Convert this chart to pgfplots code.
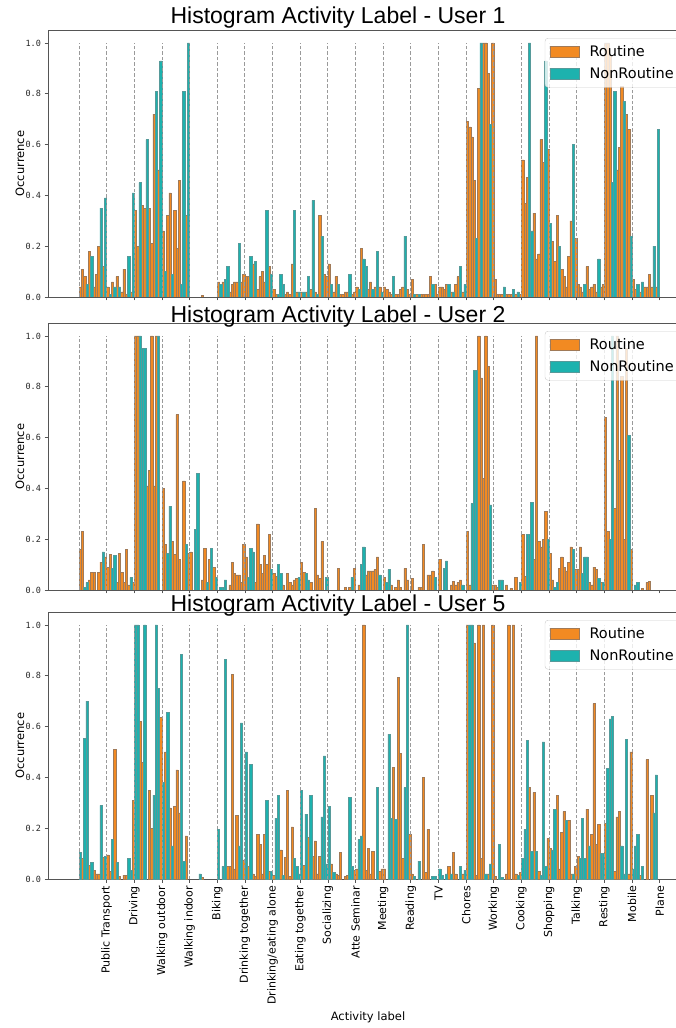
\documentclass[border=0pt]{standalone}
\usepackage{fontspec}
\setmainfont{DejaVu Sans}
\newfontfamily\titlefont{Liberation Sans}
\newfontfamily\tickfont{DejaVu Sans Mono}
\usepackage{pgfplots}
\pgfplotsset{compat=1.18}

\definecolor{routine}{HTML}{F28A22}
\definecolor{routineedge}{HTML}{A07A58}
\definecolor{nonroutine}{HTML}{1DB2AE}
\definecolor{nonroutineedge}{HTML}{569A9A}
\definecolor{spine}{HTML}{555555}
\definecolor{sepline}{HTML}{9A9A9A}

% one histogram slot = one x unit; a category spans 12 slots
\pgfplotsset{
  histpanel/.style={
    scale only axis, width=640pt, height=266.7pt,
    xmin=-13.98, xmax=263.78, ymin=0, ymax=1.05,
    axis x line*=box, axis y line*=left,
    axis line style={spine, line width=0.8pt},
    tick style={spine, line width=0.8pt},
    tick align=outside, major tick length=3.5pt,
    xtick={11.5,23.5,...,251.5}, xtick pos=left,
    ytick={0,0.2,0.4,0.6,0.8,1},
    /pgf/number format/assume math mode=true,
    yticklabel style={/pgf/number format/fixed, /pgf/number format/fixed zerofill,
      /pgf/number format/precision=1, font=\tickfont\fontsize{8.5}{10}\selectfont, text=black!85},
    ylabel={Occurrence},
    every axis y label/.style={at={(rel axis cs:-0.04375,0.5)}, rotate=90, anchor=center,
      font=\fontsize{11.5}{14}\selectfont},
    every axis title/.style={at={(rel axis cs:0.4531,1.027)}, anchor=base,
      font=\titlefont\fontsize{23}{27}\selectfont},
    legend style={at={(rel axis cs:0.989,0.971)}, anchor=north east,
      font=\fontsize{14.5}{17}\selectfont, fill=white, fill opacity=0.8, text opacity=1,
      draw=black!20, rounded corners=3pt, inner xsep=5pt, inner ysep=5pt, row sep=6pt,
      /tikz/every odd column/.append style={column sep=8pt}},
    legend cell align=left,
    legend image code/.code={\draw[#1, sharp corners, fill opacity=1] (0pt,-5.5pt) rectangle (29pt,5.5pt);},
  },
  lowtitle/.style={every axis title/.append style={at={(rel axis cs:0.4531,1.003)}}},
  routinebars/.style={ybar, bar width=1, bar shift=0pt, fill=routine, draw=routineedge, line width=0.5pt},
  nonroutinebars/.style={ybar, bar width=1, bar shift=0pt, fill=nonroutine, draw=nonroutineedge, line width=0.5pt},
}

\newcommand{\separators}{%
  \pgfplotsinvokeforeach{-0.5,11.5,23.5,35.5,47.5,59.5,71.5,83.5,95.5,107.5,119.5,131.5,143.5,155.5,167.5,179.5,191.5,203.5,215.5,227.5,239.5}{%
    \draw[sepline, line width=1pt, dash pattern=on 3.5pt off 2pt] (axis cs:##1,0) -- (axis cs:##1,1);}%
}

\begin{document}
\begin{tikzpicture}

% ---------------- User 1 ----------------
\begin{axis}[histpanel, at={(48pt,731pt)}, anchor=south west,
  title={Histogram Activity Label - User 1}, xticklabels={}]
\addplot[routinebars] table[row sep=\\]{x y\\
0 .04\\1 .11\\2 .08\\4 .18\\6 .04\\7 .09\\8 .20\\10 .12\\
12 .04\\14 .06\\16 .08\\18 .02\\19 .11\\20 .01\\22 .02\\
24 .34\\25 .20\\27 .36\\28 .35\\30 .35\\31 .21\\32 .72\\34 .50\\
36 .26\\38 .32\\39 .41\\41 .34\\42 .19\\43 .46\\46 .32\\
53 .006\\
60 .06\\62 .06\\65 .02\\66 .05\\67 .06\\68 .06\\70 .06\\71 .09\\
72 .08\\73 .08\\75 .13\\77 .03\\78 .08\\79 .10\\80 .06\\82 .12\\
84 .03\\85 .01\\89 .01\\90 .02\\91 .01\\92 .13\\94 .02\\
96 .02\\98 .02\\100 .03\\102 .02\\104 .32\\106 .09\\107 .08\\
108 .13\\110 .02\\111 .08\\113 .01\\114 .01\\115 .02\\116 .02\\118 .01\\119 .02\\
120 .04\\122 .19\\125 .03\\126 .06\\128 .04\\130 .04\\
132 .04\\133 .03\\134 .02\\135 .01\\137 .01\\138 .01\\139 .03\\140 .04\\142 .03\\143 .01\\
144 .07\\146 .01\\148 .01\\149 .01\\150 .01\\151 .01\\152 .08\\154 .05\\155 .01\\
156 .04\\157 .04\\158 .03\\159 .05\\161 .02\\163 .05\\164 .08\\166 .02\\
168 .69\\169 .67\\170 .63\\171 .46\\173 .82\\175 1.0\\176 1.0\\177 .88\\179 1.0\\
180 .07\\181 .01\\182 .01\\183 .01\\185 .01\\186 .01\\187 .01\\189 .01\\191 .01\\
192 .54\\193 .37\\194 .47\\197 .33\\198 .15\\199 .17\\200 .62\\201 .53\\203 .58\\
205 .22\\206 .14\\207 .32\\209 .11\\210 .08\\211 .04\\212 .16\\213 .30\\215 .23\\
216 .05\\217 .04\\218 .02\\220 .12\\221 .03\\222 .04\\223 .05\\224 .02\\226 .04\\227 .05\\
228 1.0\\229 1.0\\230 .95\\233 .50\\234 .59\\235 .83\\237 .72\\238 .66\\
240 .07\\241 .03\\243 .02\\245 .04\\246 .04\\247 .09\\248 .04\\250 .04\\
};
\addplot[nonroutinebars] table[row sep=\\]{x y\\
3 .05\\5 .16\\9 .35\\11 .39\\
13 .01\\15 .04\\17 .04\\21 .16\\23 .41\\
26 .45\\29 .62\\33 .81\\35 .93\\
37 .10\\40 .09\\44 .05\\45 .81\\47 1.0\\
61 .05\\63 .07\\64 .12\\69 .21\\
74 .16\\76 .14\\81 .34\\83 .09\\
86 .01\\87 .09\\88 .05\\93 .34\\95 .02\\
97 .02\\99 .08\\101 .38\\103 .01\\105 .24\\
109 .05\\112 .05\\117 .09\\
121 .03\\123 .15\\124 .12\\127 .03\\129 .18\\131 .02\\
136 .08\\141 .24\\
145 .01\\147 .01\\153 .05\\
160 .05\\162 .02\\165 .12\\167 .05\\
172 .23\\174 1.0\\178 .68\\
184 .04\\188 .03\\190 .02\\
195 1.0\\196 .26\\202 .93\\
204 .29\\208 .20\\214 .60\\
219 .05\\225 .15\\
231 .45\\232 .81\\236 .77\\239 .24\\
242 .05\\244 .06\\249 .20\\251 .66\\
};
\separators
\legend{Routine,NonRoutine}
\end{axis}

% ---------------- User 2 ----------------
\begin{axis}[histpanel, lowtitle, at={(48pt,438pt)}, anchor=south west,
  title={Histogram Activity Label - User 2}, xticklabels={}]
\addplot[routinebars] table[row sep=\\]{x y\\
0 .16\\1 .23\\4 .04\\5 .07\\6 .07\\8 .07\\9 .11\\11 .13\\
12 .09\\13 .14\\16 .03\\17 .145\\18 .07\\19 .03\\20 .16\\21 .02\\23 .03\\
24 1.0\\25 1.0\\29 .41\\30 .47\\31 1.0\\32 .41\\33 1.0\\
36 .40\\37 .18\\40 .19\\41 .14\\42 .69\\43 .12\\45 .43\\47 .145\\
48 .15\\53 .04\\54 .165\\56 .12\\58 .09\\
65 .02\\66 .11\\67 .065\\68 .06\\69 .06\\70 .03\\71 .18\\
72 .13\\76 .03\\77 .26\\78 .10\\79 .065\\80 .135\\81 .10\\82 .22\\
84 .065\\85 .055\\88 .02\\90 .065\\91 .03\\92 .02\\93 .04\\94 .045\\
96 .11\\97 .07\\100 .03\\102 .32\\103 .06\\104 .045\\105 .19\\
112 .085\\115 .01\\117 .01\\119 .085\\
121 .02\\124 .06\\125 .075\\126 .075\\127 .075\\128 .08\\129 .13\\132 .05\\
135 .02\\137 .01\\138 .04\\139 .01\\141 .085\\142 .04\\144 .045\\
147 .01\\148 .01\\149 .18\\151 .06\\152 .06\\153 .075\\
156 .12\\161 .02\\162 .035\\163 .02\\164 .03\\165 .04\\
168 .23\\169 .02\\173 1.0\\174 .835\\175 .44\\176 1.0\\177 .88\\179 .02\\
180 .02\\181 .01\\185 .02\\187 .005\\189 .05\\
192 .22\\193 .055\\197 .12\\198 1.0\\199 .19\\200 .17\\201 .20\\202 .31\\204 .145\\
205 .04\\208 .085\\209 .13\\210 .09\\211 .075\\212 .11\\213 .17\\215 .08\\
216 .08\\217 .17\\221 .03\\222 .02\\223 .09\\224 .08\\226 .03\\
228 .68\\229 .23\\232 .32\\233 1.0\\234 .51\\235 .84\\236 .20\\237 .95\\239 .16\\
244 .005\\246 .03\\247 .035\\
};
\addplot[nonroutinebars] table[row sep=\\]{x y\\
2 .01\\3 .03\\10 .15\\
14 .085\\15 .135\\22 .05\\
26 1.0\\27 .95\\28 .95\\34 1.0\\
38 .145\\39 .33\\46 .18\\
50 .24\\51 .46\\55 .03\\57 .165\\59 .05\\
61 .01\\62 .01\\63 .04\\
73 .05\\74 .165\\75 .15\\83 .08\\
86 .10\\87 .065\\95 .05\\
98 .065\\99 .04\\107 .05\\
118 .05\\
122 .10\\123 .17\\130 .06\\
133 .03\\134 .08\\
154 .05\\
158 .085\\159 .115\\166 .02\\
170 .34\\171 .865\\172 .865\\178 .335\\
182 .04\\183 .04\\191 .03\\
194 .22\\195 .22\\196 .345\\203 .20\\
206 .01\\207 .03\\214 .16\\
218 .065\\219 .13\\220 .13\\225 .045\\227 .03\\
230 .20\\231 1.0\\238 .61\\
241 .02\\242 .03\\
};
\separators
\legend{Routine,NonRoutine}
\end{axis}

% ---------------- User 5 ----------------
\begin{axis}[histpanel, lowtitle, at={(48pt,149pt)}, anchor=south west,
  title={Histogram Activity Label - User 5},
  xticklabels={Public Transport, Driving, Walking outdoor, Walking indoor, Biking,
    Drinking together, Drinking/eating alone, Eating together, Socializing, Atte Seminar,
    Meeting, Reading, TV, Chores, Working, Cooking, Shopping, Talking, Resting, Mobile, Plane},
  xticklabel style={rotate=90, anchor=east, font=\fontsize{11}{13}\selectfont},
  xlabel={Activity label},
  every axis x label/.style={at={(rel axis cs:0.5,0)}, anchor=center, yshift=-138pt,
    font=\fontsize{11.5}{14}\selectfont}]
\addplot[routinebars] table[row sep=\\]{x y\\
1 .08\\4 .055\\6 .035\\7 .02\\8 .02\\10 .085\\
12 .095\\13 .03\\15 .51\\17 .01\\19 .015\\20 .015\\23 .31\\
26 .62\\27 .46\\30 .35\\31 .20\\35 .635\\
37 .50\\39 .28\\41 .285\\42 .43\\43 .26\\46 .17\\
53 .005\\
64 .05\\65 .05\\66 .805\\67 .04\\68 .25\\71 .075\\
73 .05\\75 .02\\76 .01\\77 .175\\78 .135\\79 .02\\80 .175\\82 .03\\
84 .015\\87 .115\\89 .085\\90 .35\\91 .01\\92 .205\\
97 .055\\99 .165\\101 .09\\102 .15\\103 .02\\104 .09\\
109 .06\\111 .02\\112 .015\\113 .105\\115 .01\\116 .015\\119 .035\\
120 .04\\123 1.0\\124 .035\\125 .12\\126 .02\\127 .11\\130 .03\\131 .04\\
132 .04\\136 .44\\138 .795\\139 .495\\140 .08\\143 .175\\
144 .02\\149 .40\\150 .025\\151 .195\\
160 .05\\162 .105\\163 .02\\166 .02\\
168 1.0\\171 .93\\172 .015\\173 1.0\\174 .08\\175 1.0\\177 .02\\179 1.0\\
180 .01\\185 .02\\186 1.0\\188 1.0\\189 .02\\191 .025\\
195 .36\\197 .34\\199 .03\\203 .16\\
204 .12\\207 .33\\208 .04\\209 .185\\210 .265\\212 .23\\213 .02\\215 .05\\
216 .09\\220 .275\\222 .175\\223 .69\\224 .135\\225 .215\\
228 .22\\232 .03\\233 .245\\234 .265\\238 .02\\239 .50\\
243 .015\\246 .47\\248 .33\\
};
\addplot[nonroutinebars] table[row sep=\\]{x y\\
0 .105\\2 .555\\3 .70\\5 .065\\9 .29\\11 .09\\
14 .155\\16 .065\\21 .08\\22 .035\\
24 1.0\\25 1.0\\28 1.0\\32 .33\\33 1.0\\34 .75\\
36 .38\\38 .655\\40 .13\\44 .885\\45 .07\\
52 .02\\
60 .195\\62 .05\\63 .865\\69 .13\\70 .615\\
72 .50\\74 .45\\81 .31\\83 .03\\
85 .24\\86 .33\\88 .015\\93 .08\\94 .05\\95 .02\\
96 .35\\98 .255\\100 .33\\105 .245\\106 .485\\107 .06\\
108 .285\\110 .025\\117 .32\\118 .05\\
121 .155\\122 .17\\129 .36\\
134 .57\\135 .24\\137 .235\\141 .36\\142 1.0\\
145 .01\\147 .07\\153 .01\\154 .01\\
156 .04\\157 .015\\159 .02\\161 .02\\165 .05\\167 .035\\
169 1.0\\170 1.0\\176 .02\\178 .06\\
182 .135\\183 .005\\190 .015\\
192 .08\\193 .195\\194 .545\\196 .11\\198 .11\\200 .015\\201 .54\\202 .05\\
205 .115\\206 .275\\211 .23\\214 .02\\
217 .08\\218 .24\\219 .08\\221 .13\\226 .10\\227 .10\\
229 .435\\230 .63\\231 .64\\235 .13\\236 .02\\237 .55\\
240 .04\\241 .13\\242 .175\\244 .05\\249 .26\\250 .41\\
};
\separators
\legend{Routine,NonRoutine}
\end{axis}

\pgfresetboundingbox
\path[use as bounding box] (0pt,0pt) rectangle (676pt,1028pt);
\end{tikzpicture}
\end{document}
